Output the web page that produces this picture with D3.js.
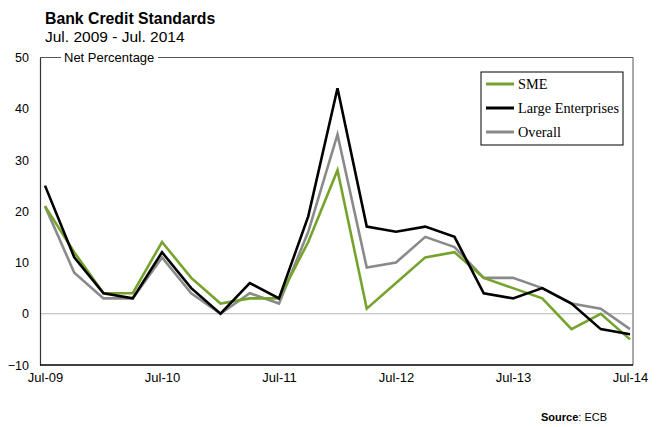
<!DOCTYPE html>
<html>
<head>
<meta charset="utf-8">
<script src="https://cdn.jsdelivr.net/npm/d3@7"></script>
<style>
  body { margin: 0; background: #fff; }
  svg { display: block; font-family: "Liberation Sans", Arial, sans-serif; }
</style>
</head>
<body>
<svg id="chart" width="659" height="427"></svg>
<script>
// quarterly survey points, Jul-09 .. Jul-14
const quarters = d3.range(21);
const tickLabels = ["Jul-09", "Jul-10", "Jul-11", "Jul-12", "Jul-13", "Jul-14"];
const yTicks = [-10, 0, 10, 20, 30, 40, 50];

const sme = [21, 12, 4, 4, 14, 7, 2, 3, 3, 14, 28, 1, 6, 11, 12, 7, 5, 3, -3, 0, -5];
const large = [25, 11, 4, 3, 12, 5, 0, 6, 3, 19, 44, 17, 16, 17, 15, 4, 3, 5, 2, -3, -4];
const overall = [21, 8, 3, 3, 11, 4, 0, 4, 2, 16, 35, 9, 10, 15, 13, 7, 7, 5, 2, 1, -3];

const series = [
  { name: "SME", values: sme, color: "#76a32e" },
  { name: "Large Enterprises", values: large, color: "#000000" },
  { name: "Overall", values: overall, color: "#8a8a8c" },
];

const svg = d3.select("#chart");

const plotL = 40, plotR = 633, plotT = 57.5, plotB = 365;

const x = d3.scaleLinear().domain([0, 20]).range([45, 630]);
const y = d3.scaleLinear().domain([-10, 50]).range([plotB, plotT]);

// title block
svg.append("text")
  .attr("x", 45).attr("y", 24)
  .style("font-size", "15.8px").style("font-weight", "bold")
  .text("Bank Credit Standards");
svg.append("text")
  .attr("x", 45).attr("y", 42)
  .style("font-size", "15.5px")
  .text("Jul. 2009 - Jul. 2014");

// frame: top and right in grey, axis lines in black
svg.append("path")
  .attr("d", `M${plotL},${plotT}H${plotR}V${plotB}`)
  .attr("fill", "none").attr("stroke", "#555").attr("stroke-width", 1);

// zero line
svg.append("line")
  .attr("x1", plotL).attr("x2", plotR)
  .attr("y1", y(0)).attr("y2", y(0))
  .attr("stroke", "#b4b4b4").attr("stroke-width", 1.2);

// y axis labels
const yAxis = d3.axisLeft(y).tickValues(yTicks).tickSize(0).tickPadding(11);
const gy = svg.append("g").attr("transform", `translate(${plotL},0)`).call(yAxis);
gy.select(".domain").attr("stroke", "#333").attr("stroke-width", 1.2);
gy.selectAll("text").style("font-size", "12.5px").style("font-family", "Liberation Sans, Arial, sans-serif").attr("fill", "#000");

// x axis labels
const xAxis = d3.axisBottom(x)
  .tickValues(tickLabels.map((d, i) => i * 4))
  .tickFormat((d) => tickLabels[d / 4])
  .tickSize(0).tickPadding(8);
const gx = svg.append("g").attr("transform", `translate(0,${plotB})`).call(xAxis);
gx.select(".domain").attr("d", `M${plotL},0H${plotR}`).attr("stroke", "#000").attr("stroke-width", 1.5);
gx.selectAll("text").style("font-size", "13px").style("font-family", "Liberation Sans, Arial, sans-serif").attr("fill", "#000");

// unit label sitting on the top border
svg.append("rect")
  .attr("x", 61).attr("y", plotT - 6).attr("width", 97).attr("height", 12)
  .attr("fill", "#fff");
svg.append("text")
  .attr("x", 64).attr("y", plotT + 4.5)
  .style("font-size", "13px")
  .text("Net Percentage");

// series lines
const line = d3.line().x((d, i) => x(quarters[i])).y((d) => y(d));
[series[2], series[0], series[1]].forEach((s) => {
  svg.append("path")
    .datum(s.values)
    .attr("d", line)
    .attr("fill", "none")
    .attr("stroke", s.color)
    .attr("stroke-width", 2.6)
    .attr("stroke-linejoin", "miter");
});

// legend
const lg = svg.append("g").attr("transform", "translate(481,72)");
lg.append("rect")
  .attr("width", 142).attr("height", 73)
  .attr("fill", "#fff").attr("stroke", "#000").attr("stroke-width", 1);
series.forEach((s, i) => {
  const yy = 12 + i * 24;
  lg.append("line")
    .attr("x1", 5).attr("x2", 33).attr("y1", yy).attr("y2", yy)
    .attr("stroke", s.color).attr("stroke-width", 3);
  lg.append("text")
    .attr("x", 37).attr("y", yy + 5)
    .style("font-family", "Liberation Serif, 'Times New Roman', serif")
    .style("font-size", "14.3px")
    .text(s.name);
});

// source note
const src = svg.append("text")
  .attr("x", 541).attr("y", 421)
  .style("font-size", "11px");
src.append("tspan").style("font-weight", "bold").text("Source");
src.append("tspan").text(": ECB");
</script>
</body>
</html>
